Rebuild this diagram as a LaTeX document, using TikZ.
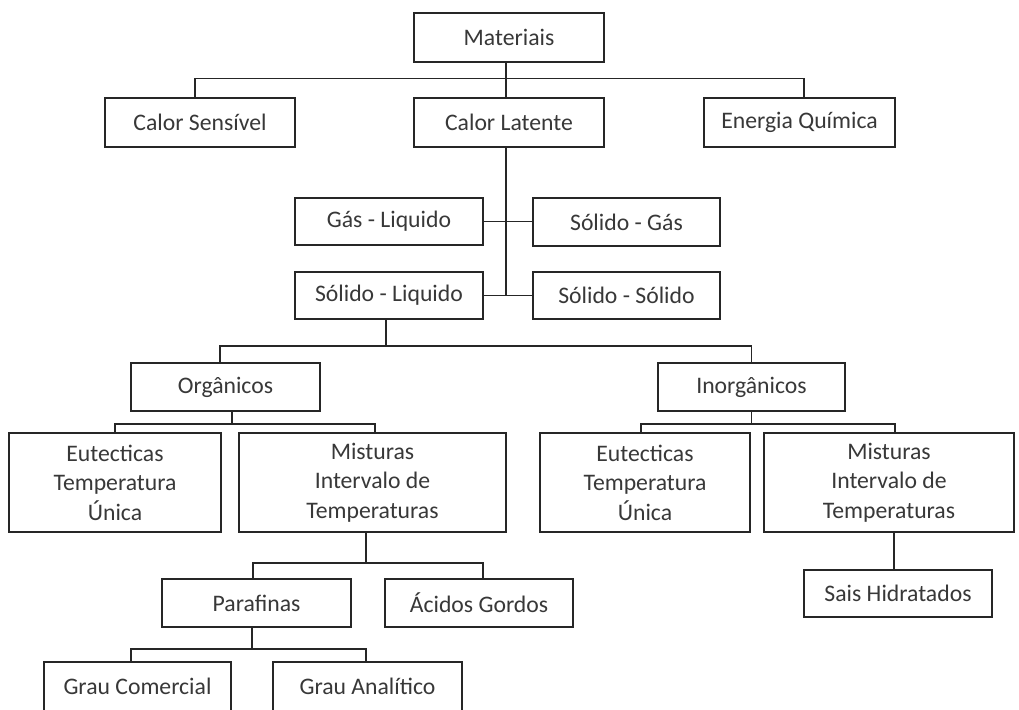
\documentclass[tikz,border=0pt]{standalone}
\usepackage{fontspec}
\setmainfont{Carlito}
\begin{document}
\begin{tikzpicture}[x=1pt,y=-1pt,
  box/.style={draw=black!85, line width=1.7pt, fill=white, inner sep=0pt,
    text=black!78, align=center, font=\fontsize{23.7}{29.5}\selectfont},
  link/.style={draw=black!85, line width=1.7pt}]
\useasboundingbox (0,0) rectangle (1019,709);
\clip (0,0) rectangle (1019,709);
\fill[white] (0,0) rectangle (1019,709);
% level 1-2
\node[box, minimum width=190, minimum height=49] (mat) at (509,37.5) {Materiais};
\node[box, minimum width=190, minimum height=49] (cs) at (200,122.5) {Calor Sensível};
\node[box, minimum width=190, minimum height=49] (cl) at (509,122.5) {Calor Latente};
\node[box, minimum width=191, minimum height=49] (eq) at (799.5,122.5) {Energia Química};
% phase changes
\node[box, minimum width=188, minimum height=47] (gl) at (389,221.5) {Gás - Liquido};
\node[box, minimum width=187, minimum height=48] (sg) at (626.5,222) {Sólido - Gás};
\node[box, minimum width=188, minimum height=47] (sl) at (389,295.5) {Sólido - Liquido};
\node[box, minimum width=187, minimum height=47] (ss) at (626.5,295.5) {Sólido - Sólido};
% organic / inorganic
\node[box, minimum width=189, minimum height=48] (org) at (225.5,387) {Orgânicos};
\node[box, minimum width=187, minimum height=48] (ino) at (751.5,387) {Inorgânicos};
\node[box, minimum width=212, minimum height=99] (eu1) at (115,482.5) {Eutecticas\\Temperatura\\Única};
\node[box, minimum width=267, minimum height=99] (mi1) at (372.5,482.5) {Misturas\\Intervalo de\\Temperaturas};
\node[box, minimum width=210, minimum height=99] (eu2) at (645,482.5) {Eutecticas\\Temperatura\\Única};
\node[box, minimum width=250, minimum height=99] (mi2) at (889,482.5) {Misturas\\Intervalo de\\Temperaturas};
% lower levels
\node[box, minimum width=189, minimum height=48] (par) at (256.5,603) {Parafinas};
\node[box, minimum width=188, minimum height=48] (ac) at (479,603) {Ácidos Gordos};
\node[box, minimum width=188, minimum height=47] (sh) at (898,593.5) {Sais Hidratados};
\node[box, minimum width=187, minimum height=49] (gc) at (137.5,686.5) {Grau Comercial};
\node[box, minimum width=189, minimum height=49] (ga) at (367.5,686.5) {Grau Analítico};
% connectors
\draw[link] ([xshift=-3]mat.south) -- ++(0,15.5) -| ([xshift=-5]cs.north);
\draw[link] ([xshift=-3]mat.south) -- ++(0,15.5) -| ([xshift=4.5]eq.north);
\draw[link] ([xshift=-3]mat.south) -- ([xshift=-3]cl.north);
\draw[link] ([xshift=-3]cl.south) -- ([xshift=-3]cl.south |- sl.east) -- (sl.east);
\draw[link] (gl.east) -- (sg.west |- gl.east);
\draw[link] (sl.east) -- (ss.west);
\draw[link] ([xshift=-3]sl.south) -- ++(0,26) -| ([xshift=-5.5]org.north);
\draw[link] ([xshift=-3]sl.south) -- ++(0,26) -| (ino.north);
\draw[link] ([xshift=6.5]org.south) -- ++(0,12) -| (eu1.north);
\draw[link] ([xshift=6.5]org.south) -- ++(0,12) -| ([xshift=2.5]mi1.north);
\draw[link] (ino.south) -- ++(0,12) -| ([xshift=-4]eu2.north);
\draw[link] (ino.south) -- ++(0,12) -| ([xshift=6]mi2.north);
\draw[link] ([xshift=-6.5]mi1.south) -- ++(0,30) -| ([xshift=-3.5]par.north);
\draw[link] ([xshift=-6.5]mi1.south) -- ++(0,30) -| ([xshift=4]ac.north);
\draw[link] ([xshift=5]mi2.south) -- ([xshift=-4]sh.north);
\draw[link] ([xshift=-4.5]par.south) -- ++(0,21) -| ([xshift=-6.5]gc.north);
\draw[link] ([xshift=-4.5]par.south) -- ++(0,21) -| ([xshift=-1.5]ga.north);
\end{tikzpicture}
\end{document}
